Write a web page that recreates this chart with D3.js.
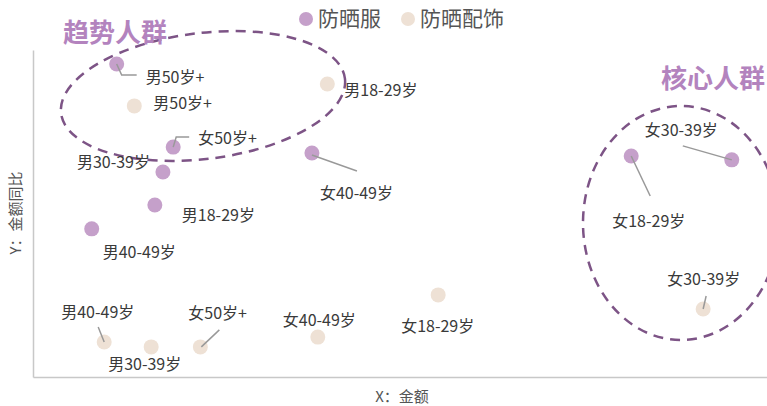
<!DOCTYPE html>
<html><head><meta charset="utf-8">
<script src="https://cdn.jsdelivr.net/npm/d3@7/dist/d3.min.js"></script>
<style>
body{margin:0;background:#fff;}
svg{display:block;font-family:"Microsoft YaHei","Noto Sans CJK SC",sans-serif;}
</style></head><body>
<svg id="c" width="767" height="406"></svg>
<script>
// ---- data ----
const seriesNames = ["防晒服", "防晒配饰"];
const labels = ["男50岁+", "女50岁+", "男30-39岁", "男18-29岁", "男40-49岁", "女40-49岁", "女18-29岁", "女30-39岁"];
// 防晒服
const clothX = [11.4, 19.1, 17.7, 16.6, 8.0, 38.0, 81.5, 95.2];
const clothY = [95.7, 70.3, 62.7, 52.6, 45.3, 68.5, 67.6, 66.4];
// 防晒配饰
const accLabels = ["男50岁+", "男18-29岁", "男40-49岁", "男30-39岁", "女50岁+", "女40-49岁", "女18-29岁", "女30-39岁"];
const accX = [13.8, 40.1, 9.7, 16.1, 22.8, 38.8, 55.2, 91.3];
const accY = [82.9, 89.6, 10.7, 9.2, 9.2, 12.2, 25.1, 20.8];
const groupTitles = ["趋势人群", "核心人群"];
const axisTitles = ["X：金额", "Y：金额同比"];

// ---- layout (label offsets in px relative to point; leader polylines) ----
const clothLabelPos = [
  {dx: 29, dy: 13, lead: [[0,0],[5,11],[20,11]]},
  {dx: 25, dy: -9, lead: [[0,0],[3,-10],[16,-10]]},
  {dx: -86, dy: -10, lead: null},
  {dx: 27, dy: 10, lead: null},
  {dx: 11, dy: 24, lead: null},
  {dx: 8, dy: 40, lead: [[0,2],[45,18]]},
  {dx: -19, dy: 65, lead: [[0,0],[19,40]]},
  {dx: -87, dy: -29, lead: [[-49,-14],[0,0]]}
];
const accLabelPos = [
  {dx: 19, dy: -3, lead: null},
  {dx: 17, dy: 6, lead: null},
  {dx: -43, dy: -30, lead: [[-6,-15],[0,0]]},
  {dx: -43, dy: 17, lead: null},
  {dx: -12, dy: -34, lead: [[19,-17],[1,0]]},
  {dx: -35, dy: -17, lead: null},
  {dx: -37, dy: 31, lead: null},
  {dx: -36, dy: -30, lead: [[3,-13],[0,0]]}
];

const W = 767, H = 406;
const m = {l: 33, r: 0, t: 50, b: 29};
const svg = d3.select("#c");
const x = d3.scaleLinear().domain([0, 100]).range([m.l, W - m.r]);
const y = d3.scaleLinear().domain([0, 100]).range([H - m.b, m.t]);

const colors = ["#c5a0ca", "#eee1d5"];
const dashColor = "#7d5486";
const titleColor = "#b383be";

// axes (lines only)
const axG = svg.append("g");
axG.append("g").attr("transform", `translate(0,${y(0)})`)
  .call(d3.axisBottom(x).ticks(0).tickSize(0).tickFormat(""))
  .call(g => g.select(".domain").attr("stroke", "#c8c8c8").attr("stroke-width", 1.5));
axG.append("g").attr("transform", `translate(${x(0)},0)`)
  .call(d3.axisLeft(y).ticks(0).tickSize(0).tickFormat(""))
  .call(g => g.select(".domain").attr("stroke", "#c8c8c8").attr("stroke-width", 1.5));

svg.append("text").attr("x", 402).attr("y", 397).attr("dy", "0.35em").attr("text-anchor", "middle")
  .attr("font-size", 15).attr("fill", "#555").text(axisTitles[0]);
svg.append("text").attr("transform", "translate(16,213) rotate(-90)").attr("dy", "0.35em").attr("text-anchor", "middle")
  .attr("font-size", 15).attr("fill", "#555").text(axisTitles[1]);

// group ellipses
svg.append("ellipse").attr("cx", 203).attr("cy", 96).attr("rx", 143).attr("ry", 63)
  .attr("transform", "rotate(-7,203,96)")
  .attr("fill", "none").attr("stroke", dashColor).attr("stroke-width", 2.5).attr("stroke-dasharray", "10,7");
svg.append("ellipse").attr("cx", 681).attr("cy", 223).attr("rx", 98).attr("ry", 117)
  .attr("fill", "none").attr("stroke", dashColor).attr("stroke-width", 2.5).attr("stroke-dasharray", "10,7");

svg.append("text").attr("x", 63).attr("y", 33).attr("dy", "0.35em").attr("font-size", 26).attr("font-weight", "bold")
  .attr("fill", titleColor).text(groupTitles[0]);
svg.append("text").attr("x", 661).attr("y", 79).attr("dy", "0.35em").attr("font-size", 26).attr("font-weight", "bold")
  .attr("fill", titleColor).text(groupTitles[1]);

// series
const series = [
  {name: seriesNames[0], color: colors[0], pts: labels.map((l,i)=>({label:l, x:clothX[i], y:clothY[i], pos:clothLabelPos[i]}))},
  {name: seriesNames[1], color: colors[1], pts: accLabels.map((l,i)=>({label:l, x:accX[i], y:accY[i], pos:accLabelPos[i]}))}
];
const line = d3.line();
series.forEach(s => {
  const g = svg.append("g");
  g.selectAll("circle").data(s.pts).join("circle")
    .attr("cx", d => x(d.x)).attr("cy", d => y(d.y)).attr("r", 7.5).attr("fill", s.color);
  g.selectAll("path").data(s.pts.filter(d => d.pos.lead)).join("path")
    .attr("d", d => line(d.pos.lead.map(p => [x(d.x) + p[0], y(d.y) + p[1]])))
    .attr("fill", "none").attr("stroke", "#999").attr("stroke-width", 1.5);
  g.selectAll("text").data(s.pts).join("text")
    .attr("x", d => x(d.x) + d.pos.dx).attr("y", d => y(d.y) + d.pos.dy)
    .attr("dy", "0.35em").attr("font-size", 16).attr("fill", "#3a3a3a").text(d => d.label);
});

// legend
const lg = svg.append("g");
const legX = [306, 408];
seriesNames.forEach((n, i) => {
  lg.append("circle").attr("cx", legX[i]).attr("cy", 19).attr("r", 7).attr("fill", colors[i]);
  lg.append("text").attr("x", legX[i] + 12).attr("y", 19).attr("dy", "0.35em")
    .attr("font-size", 21).attr("fill", "#555").text(n);
});
</script></body></html>
